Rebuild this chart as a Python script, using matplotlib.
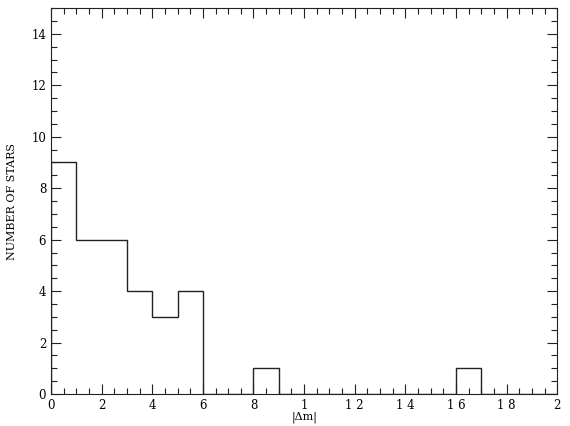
import numpy as np
import matplotlib
matplotlib.use("Agg")
import matplotlib.pyplot as plt
from matplotlib.ticker import MultipleLocator

# histogram of |dm|, bin width 0.1
bin_edges = [0.0, 0.1, 0.2, 0.3, 0.4, 0.5, 0.6, 0.7, 0.8, 0.9, 1.0,
             1.1, 1.2, 1.3, 1.4, 1.5, 1.6, 1.7, 1.8, 1.9, 2.0]
counts = [9, 6, 6, 4, 3, 4, 0, 0, 1, 0, 0, 0, 0, 0, 0, 0, 1, 0, 0, 0]

x_ticks = [0, 0.2, 0.4, 0.6, 0.8, 1.0, 1.2, 1.4, 1.6, 1.8, 2.0]
x_ticklabels = ["0", "2", "4", "6", "8", "1", "1 2", "1 4", "1 6", "1 8", "2"]
y_ticks = [0, 2, 4, 6, 8, 10, 12, 14]

plt.rcParams['font.family'] = ['DejaVu Serif']

fig = plt.figure(figsize=(5.7, 4.26), dpi=100)
ax = fig.add_axes([0.0895, 0.075, 0.888, 0.906])

ax.stairs(counts, bin_edges, color='#222222', linewidth=1.0)

ax.set_xlim(0, 2)
ax.set_ylim(0, 15)
ax.set_xticks(x_ticks)
ax.set_xticklabels(x_ticklabels)
ax.set_yticks(y_ticks)
ax.xaxis.set_minor_locator(MultipleLocator(0.05))
ax.yaxis.set_minor_locator(MultipleLocator(0.5))
ax.tick_params(which='both', direction='in', top=True, right=True,
               labelsize=8.5, color='#222222', width=0.8)
ax.tick_params(which='major', length=7)
ax.tick_params(which='minor', length=4)
for s in ax.spines.values():
    s.set_linewidth(0.8)
    s.set_color('#222222')

ax.set_xlabel('|Δm|', fontsize=8, labelpad=0)
ax.set_ylabel('NUMBER OF STARS', fontsize=8, labelpad=10)

fig.savefig('out.png', dpi=100)
